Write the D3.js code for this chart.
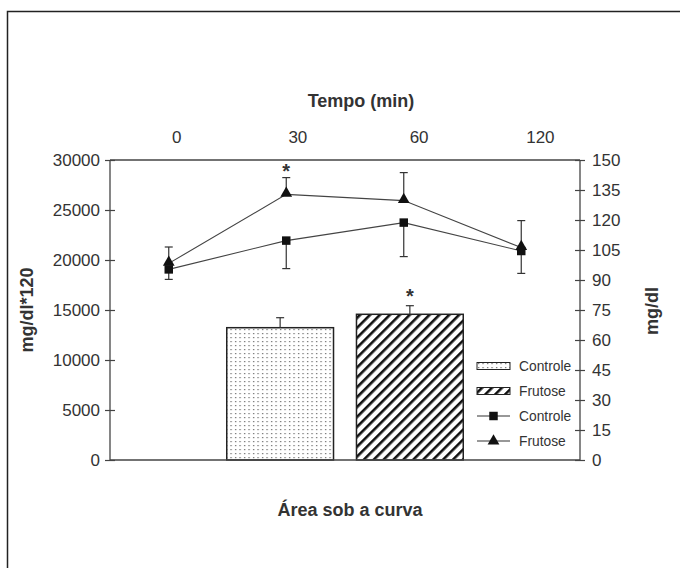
<!DOCTYPE html>
<html>
<head>
<meta charset="utf-8">
<script src="https://cdn.jsdelivr.net/npm/d3@7"></script>
<style>
  body { margin: 0; background: #fff; }
  svg { display: block; font-family: "Liberation Sans", Arial, sans-serif; }
</style>
</head>
<body>
<svg id="chart" width="680" height="568"></svg>
<script>
// ---- data ----
const times = ["0", "30", "60", "120"];
const controleLine = [95.3, 109.7, 118.7, 104.5];
const controleErr = [5.0, 14.0, 17.0, 11.2];
const frutoseLine = [98.3, 132.8, 129.7, 106.2];
const frutoseErr = [8.2, 8.4, 14.0, 13.5];
const barGroups = ["Controle", "Frutose"];
const barValues = [13230, 14570];
const barErr = [1000, 860];
const leftTicks = [0, 5000, 10000, 15000, 20000, 25000, 30000];
const rightTicks = [0, 15, 30, 45, 60, 75, 90, 105, 120, 135, 150];
const lineSig = [false, true, false, false];
const barSig = [false, true];

const ink = "#333";
const svg = d3.select("#chart");

// frame
svg.append("path").attr("d", "M7.5,568 L7.5,11.5 L680,11.5")
  .attr("fill", "none").attr("stroke", "#222").attr("stroke-width", 1.5);

const L = 110, R = 580, T = 160, B = 460;
const yLeft = d3.scaleLinear().domain([0, 30000]).range([B, T]);
const yRight = d3.scaleLinear().domain([0, 150]).range([B, T]);
const xTime = d3.scaleBand().domain(times).range([L, R]);
const xTimeLabel = d3.scaleBand().domain(times).range([116, 601]);
const xBar = d3.scaleBand().domain(barGroups).range([L, R]).paddingInner(0.177).paddingOuter(0.9);

// patterns
const defs = svg.append("defs");
const dots = defs.append("pattern").attr("id", "dots").attr("patternUnits", "userSpaceOnUse")
  .attr("width", 4.5).attr("height", 4);
dots.append("rect").attr("width", 4.5).attr("height", 4).attr("fill", "#fff");
dots.append("rect").attr("x", 1).attr("y", 1).attr("width", 1.2).attr("height", 1.2).attr("fill", "#666");
const hatch = defs.append("pattern").attr("id", "hatch").attr("patternUnits", "userSpaceOnUse")
  .attr("width", 7).attr("height", 7).attr("patternTransform", "rotate(45)");
hatch.append("rect").attr("width", 7).attr("height", 7).attr("fill", "#fff");
hatch.append("rect").attr("x", 0).attr("y", 0).attr("width", 2.6).attr("height", 7).attr("fill", "#111");
const fills = ["url(#dots)", "url(#hatch)"];

// bars
const g = svg.append("g");
g.selectAll("rect.bar").data(barValues).join("rect").attr("class", "bar")
  .attr("x", (d, i) => xBar(barGroups[i]))
  .attr("y", d => yLeft(d))
  .attr("width", xBar.bandwidth())
  .attr("height", d => B - yLeft(d))
  .attr("fill", (d, i) => fills[i])
  .attr("stroke", "#222").attr("stroke-width", 1.5);
// bar error bars
barValues.forEach((v, i) => {
  const cx = xBar(barGroups[i]) + xBar.bandwidth() / 2;
  g.append("line").attr("x1", cx).attr("x2", cx).attr("y1", yLeft(v)).attr("y2", yLeft(v + barErr[i]))
    .attr("stroke", ink).attr("stroke-width", 1.2);
  g.append("line").attr("x1", cx - 4).attr("x2", cx + 4).attr("y1", yLeft(v + barErr[i])).attr("y2", yLeft(v + barErr[i]))
    .attr("stroke", ink).attr("stroke-width", 1.2);
  if (barSig[i]) g.append("text").attr("x", cx).attr("y", yLeft(v + barErr[i]) - 3)
    .attr("text-anchor", "middle").attr("font-size", 20).attr("font-weight", "bold").attr("fill", ink).text("*");
});

// axes
const axL = svg.append("g").attr("transform", `translate(${L},0)`)
  .call(d3.axisLeft(yLeft).tickValues(leftTicks).tickSize(5).tickPadding(5).tickFormat(d3.format("d")));
axL.selectAll(".tick line").attr("x1", 5);
const axR = svg.append("g").attr("transform", `translate(${R},0)`)
  .call(d3.axisRight(yRight).tickValues(rightTicks).tickSize(5).tickPadding(7));
axR.selectAll(".tick line").attr("x1", -5);
[axL, axR].forEach(a => {
  a.select(".domain").remove();
  a.selectAll("line").attr("stroke", "#444").attr("stroke-width", 1.2);
  a.selectAll("text").attr("font-size", 17).attr("fill", ink).attr("font-family", "Liberation Sans, Arial, sans-serif");
});
svg.append("line").attr("x1", L).attr("x2", L).attr("y1", T).attr("y2", B).attr("stroke", "#444").attr("stroke-width", 1.3);
svg.append("line").attr("x1", R).attr("x2", R).attr("y1", T).attr("y2", B).attr("stroke", "#444").attr("stroke-width", 1.3);
svg.append("line").attr("x1", L).attr("x2", R).attr("y1", T).attr("y2", T).attr("stroke", "#444").attr("stroke-width", 1.3);
svg.append("line").attr("x1", L).attr("x2", R).attr("y1", B).attr("y2", B).attr("stroke", "#444").attr("stroke-width", 1.3);

// top time labels
svg.append("g").selectAll("text").data(times).join("text")
  .attr("x", d => xTimeLabel(d) + xTimeLabel.bandwidth() / 2)
  .attr("y", 143).attr("text-anchor", "middle").attr("font-size", 17).attr("fill", ink).text(d => d);

// lines
const cx = d => xTime(d) + xTime.bandwidth() / 2;
const lineGen = d3.line().x((d, i) => cx(times[i])).y(d => yRight(d));
const lg = svg.append("g");
// error bars
function errBars(vals, errs, dir) {
  vals.forEach((v, i) => {
    const x = cx(times[i]), y2 = yRight(v + dir * errs[i]);
    lg.append("line").attr("x1", x).attr("x2", x).attr("y1", yRight(v)).attr("y2", y2).attr("stroke", ink).attr("stroke-width", 1.2);
    lg.append("line").attr("x1", x - 4).attr("x2", x + 4).attr("y1", y2).attr("y2", y2).attr("stroke", ink).attr("stroke-width", 1.2);
  });
}
errBars(frutoseLine, frutoseErr, 1);
errBars(controleLine, controleErr, -1);
lg.append("path").datum(controleLine).attr("d", lineGen).attr("fill", "none").attr("stroke", "#444").attr("stroke-width", 1.1);
lg.append("path").datum(frutoseLine).attr("d", lineGen).attr("fill", "none").attr("stroke", "#444").attr("stroke-width", 1.1);
const sq = d3.symbol().type(d3.symbolSquare).size(72);
const tri = d3.symbol().type(d3.symbolTriangle).size(60);
lg.selectAll("path.sq").data(controleLine).join("path").attr("class", "sq")
  .attr("transform", (d, i) => `translate(${cx(times[i])},${yRight(d)})`).attr("d", sq).attr("fill", "#111");
lg.selectAll("path.tri").data(frutoseLine).join("path").attr("class", "tri")
  .attr("transform", (d, i) => `translate(${cx(times[i])},${yRight(d) - 1})`).attr("d", tri).attr("fill", "#111");
frutoseLine.forEach((v, i) => {
  if (lineSig[i]) lg.append("text").attr("x", cx(times[i])).attr("y", yRight(v + frutoseErr[i]) + 0)
    .attr("text-anchor", "middle").attr("font-size", 20).attr("font-weight", "bold").attr("fill", ink).text("*");
});

// legend
const legItems = [
  { label: "Controle", kind: "bar", fill: fills[0] },
  { label: "Frutose", kind: "bar", fill: fills[1] },
  { label: "Controle", kind: "line", sym: sq },
  { label: "Frutose", kind: "line", sym: tri }
];
const leg = svg.append("g").attr("transform", "translate(477,366)");
legItems.forEach((it, i) => {
  const gy = i * 25;
  const row = leg.append("g").attr("transform", `translate(0,${gy})`);
  if (it.kind === "bar") {
    row.append("rect").attr("x", 0).attr("y", -3.5).attr("width", 33).attr("height", 7)
      .attr("fill", it.fill).attr("stroke", "#222").attr("stroke-width", 1);
  } else {
    row.append("line").attr("x1", 0).attr("x2", 33).attr("y1", 0).attr("y2", 0).attr("stroke", "#333").attr("stroke-width", 1.1);
    row.append("path").attr("transform", "translate(16.5,0)").attr("d", it.sym).attr("fill", "#111");
  }
  row.append("text").attr("x", 42).attr("y", 0).attr("dy", "0.35em").attr("font-size", 13.8).attr("fill", ink).text(it.label);
});

// titles
svg.append("text").attr("x", 361).attr("y", 107).attr("text-anchor", "middle")
  .attr("font-size", 18).attr("font-weight", "bold").attr("fill", ink).text("Tempo (min)");
svg.append("text").attr("x", 350).attr("y", 516).attr("text-anchor", "middle")
  .attr("font-size", 18).attr("font-weight", "bold").attr("fill", ink).text("Área sob a curva");
svg.append("text").attr("transform", "translate(33,310) rotate(-90)").attr("text-anchor", "middle")
  .attr("font-size", 18).attr("font-weight", "bold").attr("fill", ink).text("mg/dl*120");
svg.append("text").attr("transform", "translate(658,311) rotate(-90)").attr("text-anchor", "middle")
  .attr("font-size", 18).attr("font-weight", "bold").attr("fill", ink).text("mg/dl");
</script>
</body>
</html>
